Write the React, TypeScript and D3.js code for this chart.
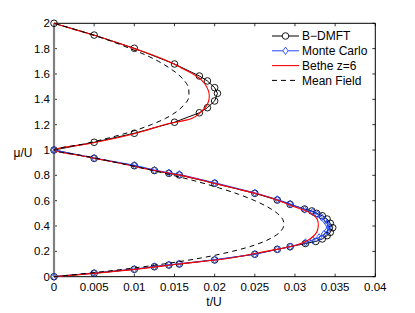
import * as d3 from "d3";

// B-DMFT (t/U, mu/U), both lobes
const bdmftT = [0, 0.005, 0.01, 0.015, 0.0181, 0.0191, 0.02, 0.02035, 0.02, 0.0191, 0.0181, 0.015, 0.01, 0.005, 0,
  0.005, 0.01, 0.0125, 0.0143, 0.0156, 0.02, 0.025, 0.0278, 0.0294, 0.0312, 0.0321, 0.0327, 0.0334, 0.034, 0.0344, 0.0347,
  0.0344, 0.034, 0.0334, 0.0326, 0.0313, 0.0294, 0.0278, 0.025, 0.02, 0.0156, 0.0143, 0.0125, 0.01, 0.005, 0];
const bdmftMu = [2, 1.907, 1.803, 1.679, 1.584, 1.545, 1.492, 1.447, 1.387, 1.334, 1.294, 1.219, 1.132, 1.061, 1,
  0.934, 0.876, 0.838, 0.816, 0.803, 0.737, 0.658, 0.605, 0.571, 0.534, 0.519, 0.5, 0.481, 0.455, 0.421, 0.387,
  0.35, 0.324, 0.298, 0.278, 0.262, 0.237, 0.216, 0.177, 0.132, 0.1, 0.092, 0.079, 0.058, 0.027, 0];

// Monte Carlo, lower lobe only
const mcT = [0, 0.005, 0.01, 0.0125, 0.0143, 0.0156, 0.02, 0.025, 0.0278, 0.0294, 0.0312, 0.0322, 0.0328, 0.0333, 0.0337,
  0.034, 0.0342, 0.034, 0.0336, 0.033, 0.0322, 0.0313, 0.0294, 0.0278, 0.025, 0.02, 0.0156, 0.0143, 0.0125, 0.01, 0.005, 0];
const mcMu = [1, 0.937, 0.88, 0.842, 0.82, 0.808, 0.742, 0.662, 0.61, 0.575, 0.53, 0.51, 0.49, 0.47, 0.445,
  0.42, 0.392, 0.362, 0.336, 0.31, 0.29, 0.27, 0.236, 0.216, 0.178, 0.134, 0.102, 0.094, 0.08, 0.06, 0.03, 0];

// Bethe lattice z=6 and mean field, sampled on mu
const muGrid = [0, 0.05, 0.1, 0.15, 0.2, 0.25, 0.3, 0.35, 0.4, 0.45, 0.5, 0.55, 0.6, 0.65, 0.7, 0.75, 0.8, 0.85, 0.9, 0.95, 1,
  1.05, 1.1, 1.15, 1.2, 1.25, 1.3, 1.35, 1.4, 1.45, 1.5, 1.55, 1.6, 1.65, 1.7, 1.75, 1.8, 1.85, 1.9, 1.95, 2];
const betheT = [0, 0.0088, 0.0156, 0.0222, 0.0264, 0.0302, 0.0319, 0.0327, 0.0329, 0.0328, 0.032, 0.03, 0.028, 0.0255, 0.0223, 0.0191, 0.0158, 0.0115, 0.0079, 0.0038, 0,
  0.0043, 0.0082, 0.0112, 0.0137, 0.0172, 0.0183, 0.019, 0.0193, 0.0193, 0.019, 0.0184, 0.0173, 0.0158, 0.0142, 0.0123, 0.01, 0.0077, 0.0053, 0.0026, 0];
const meanFieldT = [0, 0.0075, 0.0136, 0.0185, 0.0222, 0.025, 0.0269, 0.0281, 0.0286, 0.0285, 0.0278, 0.0266, 0.025, 0.023, 0.0206, 0.0179, 0.0148, 0.0115, 0.0079, 0.0041, 0,
  0.0039, 0.0071, 0.0099, 0.0121, 0.0139, 0.0152, 0.0161, 0.0167, 0.0168, 0.0167, 0.0162, 0.0154, 0.0143, 0.013, 0.0114, 0.0095, 0.0075, 0.0052, 0.0027, 0];

const xTicks = [0, 0.005, 0.01, 0.015, 0.02, 0.025, 0.03, 0.035, 0.04];
const yTicks = [0, 0.2, 0.4, 0.6, 0.8, 1, 1.2, 1.4, 1.6, 1.8, 2];
const legendItems = ["B\u2212DMFT", "Monte Carlo", "Bethe z=6", "Mean Field"];

const BLUE = "#2448ff";
const FONT = "'Liberation Sans', Arial, sans-serif";

export default function App() {
  const width = 415;
  const height = 313;
  const x = d3.scaleLinear().domain([0, 0.04]).range([54, 375.3]);
  const y = d3.scaleLinear().domain([0, 2]).range([276.7, 23.3]);

  const straight = d3.line<[number, number]>().x((d) => x(d[0])).y((d) => y(d[1]));
  const smooth = d3.line<[number, number]>().x((d) => x(d[0])).y((d) => y(d[1])).curve(d3.curveCatmullRom);

  const bdmft = bdmftT.map((t, i) => [t, bdmftMu[i]] as [number, number]);
  const mc = mcT.map((t, i) => [t, mcMu[i]] as [number, number]);
  const bethe = muGrid.map((m, i) => [betheT[i], m] as [number, number]);
  const meanField = muGrid.map((m, i) => [meanFieldT[i], m] as [number, number]);

  const diamond = (cx: number, cy: number, w = 2.6, h = 3.7) =>
    `M${cx},${cy - h}L${cx + w},${cy}L${cx},${cy + h}L${cx - w},${cy}Z`;

  const [x0, x1] = x.range();
  const [yb, yt] = y.range();

  return (
    <svg width={width} height={height} style={{ position: "absolute", left: 0, top: 0, background: "#fff" }} fontFamily={FONT}>
      <rect width={width} height={height} fill="#fff" />

      {/* frame and ticks */}
      {xTicks.map((t) => (
        <g key={`xt-${t}`}>
          <line x1={x(t)} x2={x(t)} y1={yb} y2={yb - 3} stroke="#000" strokeWidth={0.8} />
          <line x1={x(t)} x2={x(t)} y1={yt} y2={yt + 3} stroke="#000" strokeWidth={0.8} />
          <text x={x(t)} y={291} textAnchor="middle" fontSize={11.5}>{t}</text>
        </g>
      ))}
      {yTicks.map((m) => (
        <g key={`yt-${m}`}>
          <line x1={x1} x2={x1 - 3} y1={y(m)} y2={y(m)} stroke="#000" strokeWidth={0.8} />
          <line x1={x0} x2={x0 + 3} y1={y(m)} y2={y(m)} stroke="#000" strokeWidth={0.8} />
          <text x={50} y={y(m) + 4} textAnchor="end" fontSize={11.5}>{m}</text>
        </g>
      ))}
      <line x1={x0} x2={x1} y1={yt} y2={yt} stroke="#000" strokeWidth={1} />
      <line x1={x1} x2={x1} y1={yt} y2={yb} stroke="#000" strokeWidth={1} />
      <line x1={x0} x2={x1} y1={yb} y2={yb} stroke="#000" strokeWidth={1} />
      <line x1={x0} x2={x0} y1={yt} y2={yb} stroke="#808080" strokeWidth={2.2} />

      <text x={214} y={306} textAnchor="middle" fontSize={12}>t/U</text>
      <text x={23} y={157} textAnchor="middle" fontSize={12}>{"\u03bc/U"}</text>

      {/* B-DMFT */}
      <path d={straight(bdmft) ?? ""} fill="none" stroke="#000" strokeWidth={1} />
      {bdmft.map((d, i) => (
        <circle key={`c-${i}`} cx={x(d[0])} cy={y(d[1])} r={3.3} fill="none" stroke="#000" strokeWidth={0.9} />
      ))}

      {/* Monte Carlo */}
      <path d={straight(mc) ?? ""} fill="none" stroke={BLUE} strokeWidth={1} />
      {mc.map((d, i) => (
        <path key={`d-${i}`} d={diamond(x(d[0]), y(d[1]))} fill="none" stroke={BLUE} strokeWidth={0.9} />
      ))}

      {/* Bethe z=6 */}
      <path d={smooth(bethe) ?? ""} fill="none" stroke="#ff0000" strokeWidth={1.1} />

      {/* Mean field */}
      <path d={smooth(meanField) ?? ""} fill="none" stroke="#000" strokeWidth={1} strokeDasharray="5,4" />

      {/* legend */}
      {legendItems.map((label, i) => {
        const ly = 36 + i * 14.8;
        return (
          <g key={label}>
            {i === 0 && (
              <>
                <line x1={272} x2={299} y1={ly} y2={ly} stroke="#000" strokeWidth={1} />
                <circle cx={285.5} cy={ly} r={3.3} fill="#fff" stroke="#000" strokeWidth={0.9} />
              </>
            )}
            {i === 1 && (
              <>
                <line x1={272} x2={299} y1={ly} y2={ly} stroke={BLUE} strokeWidth={1} />
                <path d={diamond(285.5, ly)} fill="#fff" stroke={BLUE} strokeWidth={0.9} />
              </>
            )}
            {i === 2 && <line x1={272} x2={299} y1={ly} y2={ly} stroke="#ff0000" strokeWidth={1.1} />}
            {i === 3 && <line x1={272} x2={299} y1={ly} y2={ly} stroke="#000" strokeWidth={1} strokeDasharray="5,4" />}
            <text x={302} y={ly + 4.2} fontSize={12}>{label}</text>
          </g>
        );
      })}
    </svg>
  );
}
